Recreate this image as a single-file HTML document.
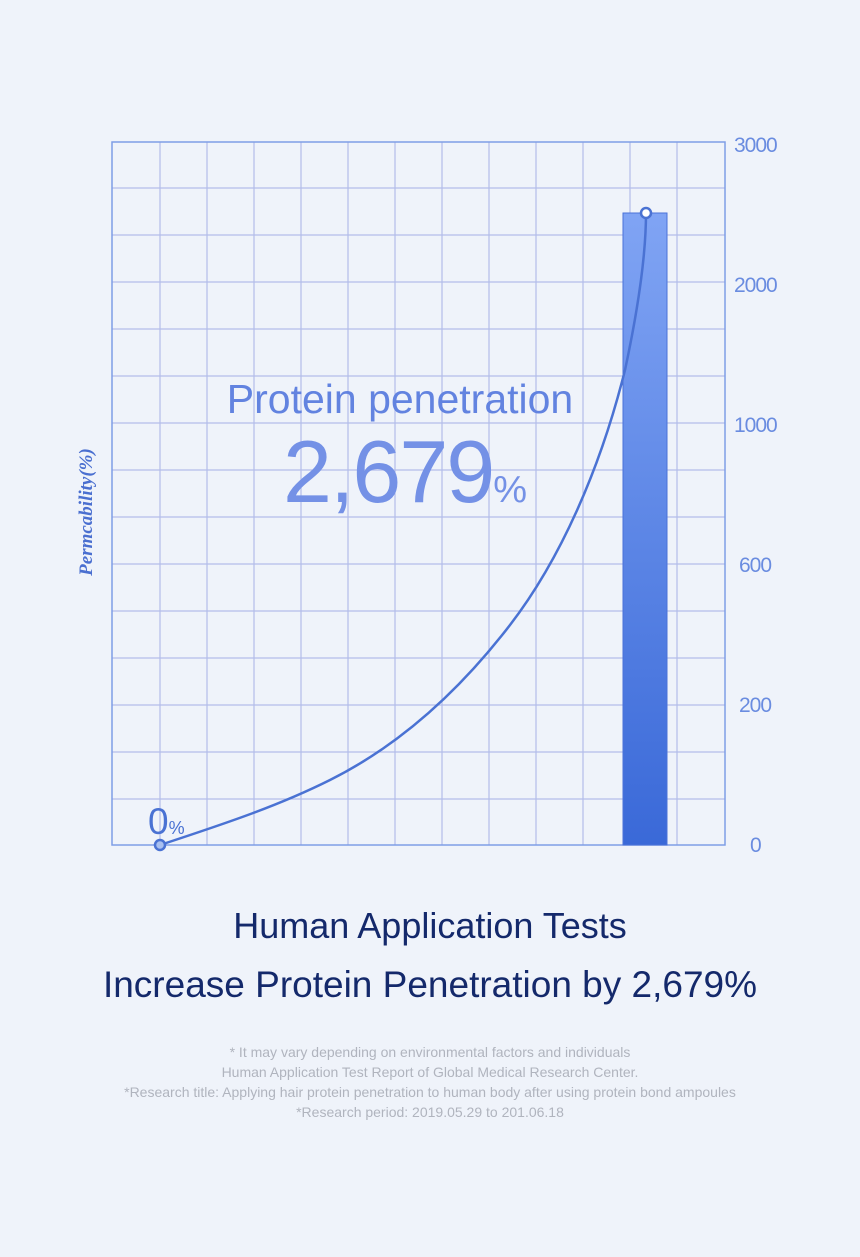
<!DOCTYPE html>
<html><head><style>
html,body{margin:0;padding:0}
body{width:860px;height:1257px;background:#eff3fa;position:relative;overflow:hidden;font-family:"Liberation Sans",sans-serif}
.t{position:absolute;left:0;width:860px;text-align:center;white-space:nowrap}
</style></head><body>
<svg width="860" height="1257" style="position:absolute;left:0;top:0">
<defs><linearGradient id="g" x1="0" y1="0" x2="0" y2="1"><stop offset="0" stop-color="#80a4f4"/><stop offset="1" stop-color="#3a69d8"/></linearGradient></defs>
<g stroke="#b3bdea" stroke-width="1.2">
<line x1="160" y1="142" x2="160" y2="845"/><line x1="207" y1="142" x2="207" y2="845"/><line x1="254" y1="142" x2="254" y2="845"/><line x1="301" y1="142" x2="301" y2="845"/><line x1="348" y1="142" x2="348" y2="845"/><line x1="395" y1="142" x2="395" y2="845"/><line x1="442" y1="142" x2="442" y2="845"/><line x1="489" y1="142" x2="489" y2="845"/><line x1="536" y1="142" x2="536" y2="845"/><line x1="583" y1="142" x2="583" y2="845"/><line x1="630" y1="142" x2="630" y2="845"/><line x1="677" y1="142" x2="677" y2="845"/>
<line x1="112" y1="188" x2="725" y2="188"/><line x1="112" y1="235" x2="725" y2="235"/><line x1="112" y1="282" x2="725" y2="282"/><line x1="112" y1="329" x2="725" y2="329"/><line x1="112" y1="376" x2="725" y2="376"/><line x1="112" y1="423" x2="725" y2="423"/><line x1="112" y1="470" x2="725" y2="470"/><line x1="112" y1="517" x2="725" y2="517"/><line x1="112" y1="564" x2="725" y2="564"/><line x1="112" y1="611" x2="725" y2="611"/><line x1="112" y1="658" x2="725" y2="658"/><line x1="112" y1="705" x2="725" y2="705"/><line x1="112" y1="752" x2="725" y2="752"/><line x1="112" y1="799" x2="725" y2="799"/>
</g>
<rect x="112" y="142" width="613" height="703" fill="none" stroke="#7f9ee6" stroke-width="1.5"/>
<rect x="623" y="213" width="44" height="632" fill="url(#g)" stroke="#4a72d8" stroke-width="1"/>
<path d="M160 845 C 230 822, 280 805, 330 780 C 400 745, 460 690, 510 625 C 560 560, 600 470, 625 370 C 640 300, 646 250, 646 213" fill="none" stroke="#4a72d3" stroke-width="2.5"/>
<circle cx="646" cy="213" r="5" fill="#fff" stroke="#4a72d3" stroke-width="2.5"/>
<circle cx="160" cy="845" r="5" fill="#a9c0f0" stroke="#4a72d3" stroke-width="2.5"/>
<g fill="#6a8ce0" font-family="Liberation Sans" font-size="21" letter-spacing="-1">
<text x="734" y="152">3000</text><text x="734" y="292">2000</text><text x="734" y="432">1000</text><text x="739" y="572">600</text><text x="739" y="712">200</text><text x="750" y="852">0</text>
</g>
<text x="92" y="512" transform="rotate(-90 92 512)" text-anchor="middle" fill="#4a6fd0" font-family="Liberation Serif" font-style="italic" font-weight="bold" font-size="19">Permcability(%)</text>
<text x="148" y="834" fill="#4a72d3" font-size="37" font-family="Liberation Sans">0<tspan font-size="18">%</tspan></text>
<text x="400" y="413" text-anchor="middle" fill="#6283e0" font-size="41" font-family="Liberation Sans">Protein penetration</text>
<text x="283" y="502" fill="#7491e6" font-size="88" font-family="Liberation Sans" letter-spacing="-2">2,679<tspan font-size="38">%</tspan></text>
</svg>
<div class="t" style="top:905px;font-size:36px;color:#14296b">Human Application Tests</div>
<div class="t" style="top:964px;font-size:37px;color:#14296b">Increase Protein Penetration by 2,679%</div>
<div class="t" style="top:1042px;font-size:14px;line-height:20px;color:#b0b4be">* It may vary depending on environmental factors and individuals<br>Human Application Test Report of Global Medical Research Center.<br>*Research title: Applying hair protein penetration to human body after using protein bond ampoules<br>*Research period: 2019.05.29 to 201.06.18</div>
</body></html>
